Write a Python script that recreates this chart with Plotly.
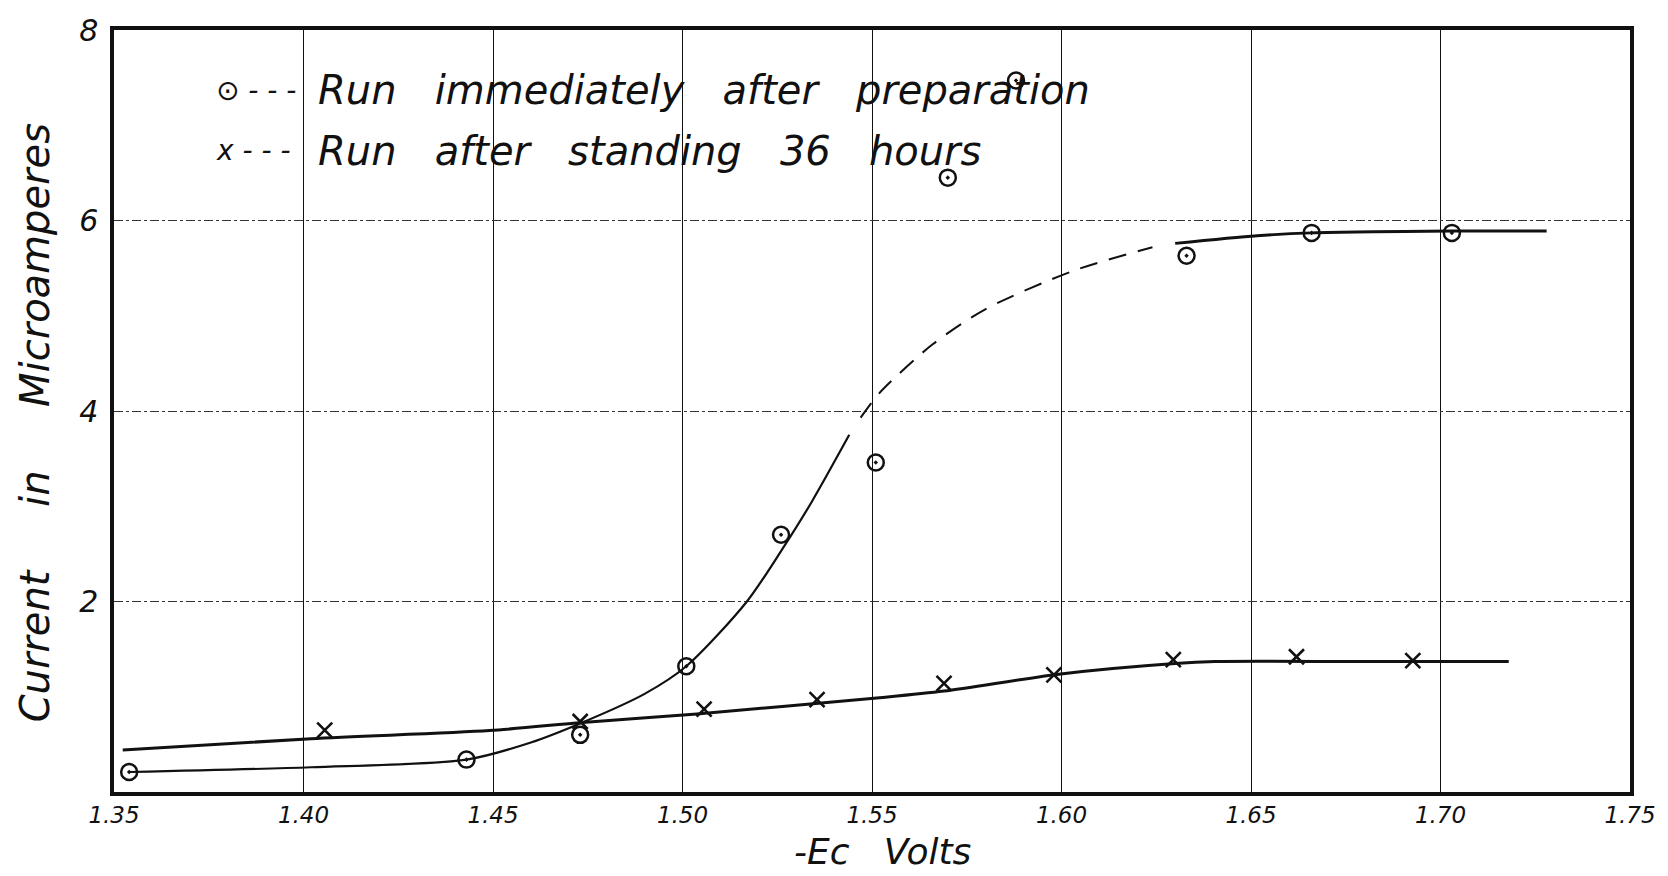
import plotly.graph_objects as go

# ---- data ----
run1_x = [1.354, 1.443, 1.473, 1.501, 1.526, 1.551, 1.570, 1.588, 1.633, 1.666, 1.703]
run1_y = [0.21, 0.34, 0.60, 1.32, 2.70, 3.46, 6.45, 7.47, 5.63, 5.87, 5.87]

run2_x = [1.4056, 1.473, 1.5057, 1.5355, 1.569, 1.598, 1.6295, 1.662, 1.6927]
run2_y = [0.65, 0.74, 0.87, 0.97, 1.14, 1.23, 1.39, 1.42, 1.38]

# hand-drawn fitted curves
curve1a_x = [1.354, 1.402, 1.443, 1.460, 1.4736, 1.490, 1.501, 1.517, 1.5265, 1.534, 1.544]
curve1a_y = [0.21, 0.26, 0.34, 0.52, 0.73, 1.03, 1.32, 2.00, 2.56, 3.04, 3.75]
curve1b_x = [1.547, 1.552, 1.566, 1.580, 1.603, 1.624]
curve1b_y = [3.93, 4.19, 4.70, 5.07, 5.47, 5.72]
curve1c_x = [1.630, 1.6516, 1.666, 1.703, 1.728]
curve1c_y = [5.76, 5.84, 5.87, 5.89, 5.89]

curve2_x = [1.3523, 1.402, 1.449, 1.4736, 1.5038, 1.552, 1.569, 1.5998, 1.630, 1.6405, 1.680, 1.718]
curve2_y = [0.44, 0.56, 0.645, 0.73, 0.82, 0.99, 1.06, 1.24, 1.35, 1.37, 1.37, 1.37]

x_ticks = [1.35, 1.40, 1.45, 1.50, 1.55, 1.60, 1.65, 1.70, 1.75]
x_tick_text = ["1.35", "1.40", "1.45", "1.50", "1.55", "1.60", "1.65", "1.70", "1.75"]
y_ticks = [2, 4, 6, 8]
y_tick_text = ["2", "4", "6", "8"]

SP = "\u00a0\u00a0\u00a0"
SP4 = "\u00a0\u00a0\u00a0\u00a0\u00a0"
legend_labels = ["Run" + SP + "immediately" + SP + "after" + SP + "preparation",
                 "Run" + SP + "after" + SP + "standing" + SP + "36" + SP + "hours"]
legend_keys = ["\u2299\u00a0-\u00a0-\u00a0-", "x\u00a0-\u00a0-\u00a0-"]

FONT = "DejaVu Sans"
INK = "#111111"

fig = go.Figure()

line_style = dict(color=INK, width=2.2, shape="spline", smoothing=0.8)
fig.add_trace(go.Scatter(x=curve1a_x, y=curve1a_y, mode="lines", line=line_style, hoverinfo="skip"))
fig.add_trace(go.Scatter(x=curve1b_x, y=curve1b_y, mode="lines",
                         line=dict(color=INK, width=2, dash="18px,12px", shape="spline", smoothing=0.8),
                         hoverinfo="skip"))
fig.add_trace(go.Scatter(x=curve1c_x, y=curve1c_y, mode="lines",
                         line=dict(color=INK, width=2.8, shape="spline", smoothing=0.8), hoverinfo="skip"))
fig.add_trace(go.Scatter(x=curve2_x, y=curve2_y, mode="lines",
                         line=dict(color=INK, width=3, shape="spline", smoothing=0.8), hoverinfo="skip"))

fig.add_trace(go.Scatter(x=run1_x, y=run1_y, mode="markers", name="Run immediately after preparation",
                         marker=dict(symbol="circle-open-dot", size=16, color=INK, line=dict(width=2.5, color=INK))))
fig.add_trace(go.Scatter(x=run2_x, y=run2_y, mode="markers", name="Run after standing 36 hours",
                         marker=dict(symbol="x-thin", size=15, color=INK, line=dict(width=2.6, color=INK))))

annotations = []
legend_y = [7.37, 6.73]
for key, lab, yy in zip(legend_keys, legend_labels, legend_y):
    annotations.append(dict(x=1.3765, y=yy, xref="x", yref="y", text=key, showarrow=False,
                            xanchor="left", yanchor="middle",
                            font=dict(family=FONT, size=28, color=INK, style="italic")))
    annotations.append(dict(x=1.4033, y=yy, xref="x", yref="y", text=lab, showarrow=False,
                            xanchor="left", yanchor="middle",
                            font=dict(family=FONT, size=40, color=INK, style="italic")))

annotations.append(dict(x=0.507, y=-0.078, xref="paper", yref="paper", text="-Ec\u00a0\u00a0\u00a0Volts",
                        showarrow=False, xanchor="center", yanchor="middle",
                        font=dict(family=FONT, size=36, color=INK, style="italic")))
annotations.append(dict(x=-0.052, y=0.484, xref="paper", yref="paper",
                        text="Current" + SP4 + "in" + SP4 + "Microamperes",
                        textangle=-90, showarrow=False, xanchor="center", yanchor="middle",
                        font=dict(family=FONT, size=40, color=INK, style="italic")))

fig.update_layout(
    width=1668, height=876,
    margin=dict(l=114, r=30, t=23, b=84),
    paper_bgcolor="white", plot_bgcolor="white",
    showlegend=False,
    annotations=annotations,
    font=dict(family=FONT, color=INK),
)
fig.update_xaxes(range=[1.35, 1.75], tickvals=x_ticks, ticktext=x_tick_text,
                 showgrid=True, gridcolor="#111111", gridwidth=1,
                 showline=True, linecolor=INK, linewidth=3.5, mirror=True,
                 ticks="", zeroline=False, ticklabelstandoff=0,
                 tickfont=dict(family=FONT, size=23, color=INK, style="italic"))
fig.update_yaxes(range=[0, 8], tickvals=y_ticks, ticktext=y_tick_text,
                 showgrid=True, gridcolor="#333333", gridwidth=1, griddash="dashdot",
                 showline=True, linecolor=INK, linewidth=3.5, mirror=True,
                 ticks="", zeroline=False, ticklabelstandoff=6,
                 tickfont=dict(family=FONT, size=30, color=INK, style="italic"))

fig.write_html("out.html")
